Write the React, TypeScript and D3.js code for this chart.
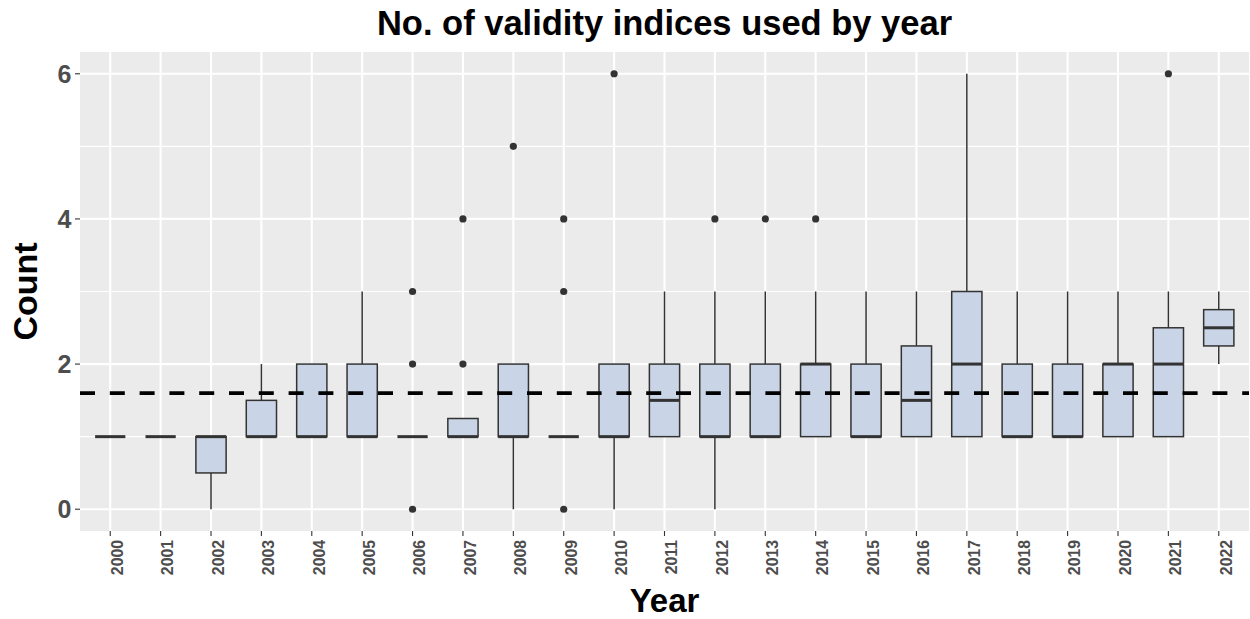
import React from "react";
import * as d3 from "d3";

// Box statistics, one entry per year
const years = [
  "2000", "2001", "2002", "2003", "2004", "2005", "2006", "2007", "2008", "2009", "2010", "2011",
  "2012", "2013", "2014", "2015", "2016", "2017", "2018", "2019", "2020", "2021", "2022",
];
const lowerWhisker = [1, 1, 0, 1, 1, 1, 1, 1, 0, 1, 0, 1, 0, 1, 1, 1, 1, 1, 1, 1, 1, 1, 2];
const q1 = [1, 1, 0.5, 1, 1, 1, 1, 1, 1, 1, 1, 1, 1, 1, 1, 1, 1, 1, 1, 1, 1, 1, 2.25];
const median = [1, 1, 1, 1, 1, 1, 1, 1, 1, 1, 1, 1.5, 1, 1, 2, 1, 1.5, 2, 1, 1, 2, 2, 2.5];
const q3 = [1, 1, 1, 1.5, 2, 2, 1, 1.25, 2, 1, 2, 2, 2, 2, 2, 2, 2.25, 3, 2, 2, 2, 2.5, 2.75];
const upperWhisker = [1, 1, 1, 2, 2, 3, 1, 1.25, 2, 1, 2, 3, 3, 3, 3, 3, 3, 6, 3, 3, 3, 3, 3];
const outliers: number[][] = [
  [], [], [], [], [], [], [0, 2, 3], [2, 4], [5], [0, 3, 4], [6], [],
  [4], [4], [4], [], [], [], [], [], [], [6], [],
];
const meanLine = 1.6;
const yTicks = [0, 2, 4, 6];
const yMinor = [1, 3, 5];

const W = 1250;
const H = 619;
const panel = { left: 80, right: 1249, top: 52, bottom: 531 };
const font = "'Liberation Sans', Arial, Helvetica, sans-serif";
const boxStroke = "#333333";
const boxFill = "#cad4e7";

export default function App() {
  const x = d3
    .scalePoint<string>()
    .domain(years)
    .range([panel.left, panel.right])
    .padding(0.6);
  const y = d3.scaleLinear().domain([-0.3, 6.3]).range([panel.bottom, panel.top]);
  const bw = x.step() * 0.6;

  return (
    <svg
      width={W}
      height={H}
      style={{ position: "absolute", left: 0, top: 0, background: "#fff" }}
      fontFamily={font}
    >
      <rect
        x={panel.left}
        y={panel.top}
        width={panel.right - panel.left}
        height={panel.bottom - panel.top}
        fill="#ebebeb"
      />
      {yMinor.map((v) => (
        <line key={"mn" + v} x1={panel.left} x2={panel.right} y1={y(v)} y2={y(v)} stroke="#fff" strokeWidth={1.1} />
      ))}
      {yTicks.map((v) => (
        <line key={"mj" + v} x1={panel.left} x2={panel.right} y1={y(v)} y2={y(v)} stroke="#fff" strokeWidth={2.1} />
      ))}
      {years.map((yr) => (
        <line key={"vg" + yr} x1={x(yr)} x2={x(yr)} y1={panel.top} y2={panel.bottom} stroke="#fff" strokeWidth={2.1} />
      ))}

      {years.map((yr, i) => {
        const cx = x(yr) as number;
        return (
          <g key={"box" + yr}>
            <line x1={cx} x2={cx} y1={y(q3[i])} y2={y(upperWhisker[i])} stroke={boxStroke} strokeWidth={1.5} />
            <line x1={cx} x2={cx} y1={y(q1[i])} y2={y(lowerWhisker[i])} stroke={boxStroke} strokeWidth={1.5} />
            <rect
              x={cx - bw / 2}
              y={y(q3[i])}
              width={bw}
              height={y(q1[i]) - y(q3[i])}
              fill={boxFill}
              stroke={boxStroke}
              strokeWidth={1.5}
            />
            <line x1={cx - bw / 2} x2={cx + bw / 2} y1={y(median[i])} y2={y(median[i])} stroke={boxStroke} strokeWidth={3} />
            {outliers[i].map((o) => (
              <circle key={o} cx={cx} cy={y(o)} r={3.6} fill={boxStroke} />
            ))}
          </g>
        );
      })}

      <line
        x1={panel.left}
        x2={panel.right}
        y1={y(meanLine)}
        y2={y(meanLine)}
        stroke="#000"
        strokeWidth={3.8}
        strokeDasharray="15 14.8"
      />

      {yTicks.map((v) => (
        <g key={"yt" + v}>
          <line x1={panel.left - 5} x2={panel.left} y1={y(v)} y2={y(v)} stroke={boxStroke} strokeWidth={1.1} />
          <text
            x={panel.left - 8.5}
            y={y(v)}
            dy="0.36em"
            textAnchor="end"
            fontSize={25}
            fontWeight="bold"
            fill="#4d4d4d"
          >
            {v}
          </text>
        </g>
      ))}
      {years.map((yr) => {
        const cx = x(yr) as number;
        return (
          <g key={"xt" + yr}>
            <line x1={cx} x2={cx} y1={panel.bottom} y2={panel.bottom + 5} stroke={boxStroke} strokeWidth={1.1} />
            <text
              transform={`translate(${cx + 12.8},${panel.bottom + 9}) rotate(-90)`}
              textAnchor="end"
              fontSize={15.8}
              fontWeight="bold"
              fill="#4d4d4d"
            >
              {yr}
            </text>
          </g>
        );
      })}

      <text
        x={(panel.left + panel.right) / 2}
        y={35}
        textAnchor="middle"
        fontSize={34.5}
        fontWeight="bold"
        fill="#000"
      >
        No. of validity indices used by year
      </text>
      <text
        x={(panel.left + panel.right) / 2}
        y={612}
        textAnchor="middle"
        fontSize={33}
        fontWeight="bold"
        fill="#000"
      >
        Year
      </text>
      <text
        transform={`translate(37,${(panel.top + panel.bottom) / 2}) rotate(-90)`}
        textAnchor="middle"
        fontSize={34}
        fontWeight="bold"
        fill="#000"
      >
        Count
      </text>
    </svg>
  );
}
